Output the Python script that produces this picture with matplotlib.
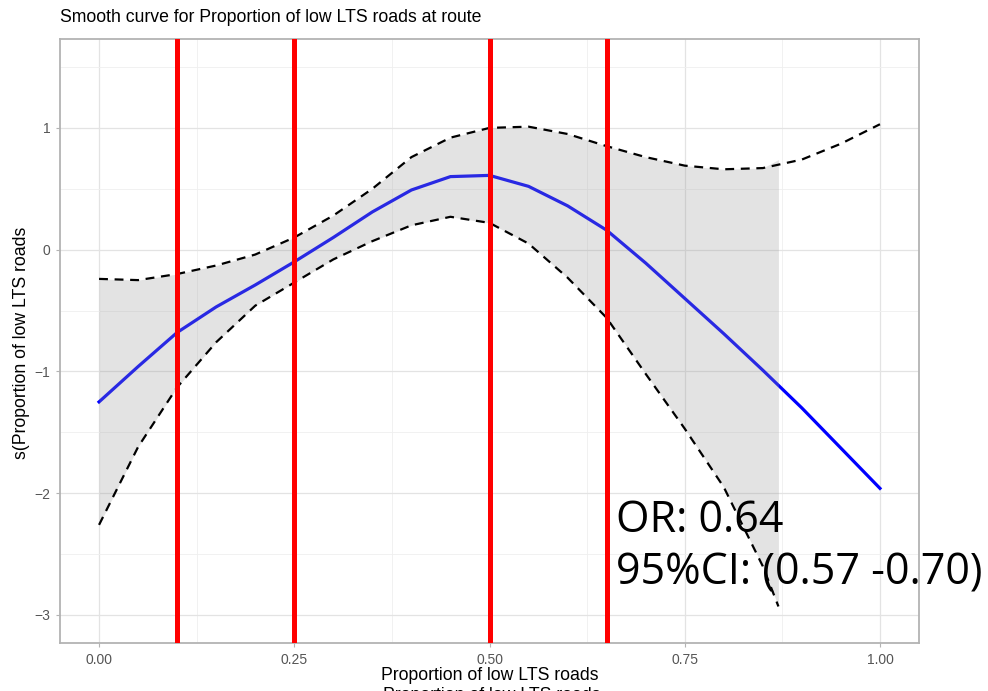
import numpy as np
import matplotlib
matplotlib.use("Agg")
import matplotlib.pyplot as plt

# values
x = [0.00, 0.05, 0.10, 0.15, 0.20, 0.25, 0.30, 0.35, 0.40, 0.45, 0.50,
     0.55, 0.60, 0.65, 0.70, 0.75, 0.80, 0.85, 0.90, 0.95, 1.00]
fit = [-1.25, -0.96, -0.68, -0.47, -0.29, -0.10, 0.10, 0.31, 0.49, 0.60, 0.61,
       0.52, 0.36, 0.16, -0.11, -0.40, -0.69, -0.99, -1.30, -1.63, -1.96]
upper = [-0.24, -0.25, -0.20, -0.13, -0.04, 0.10, 0.28, 0.50, 0.76, 0.92, 1.00,
         1.01, 0.95, 0.85, 0.76, 0.69, 0.66, 0.67, 0.74, 0.87, 1.03]
x_low = [0.00, 0.05, 0.10, 0.15, 0.20, 0.25, 0.30, 0.35, 0.40, 0.45, 0.50,
         0.55, 0.60, 0.65, 0.70, 0.75, 0.80, 0.85, 0.87]
lower = [-2.26, -1.62, -1.13, -0.76, -0.46, -0.27, -0.08, 0.07, 0.20, 0.27, 0.22,
         0.05, -0.23, -0.56, -1.02, -1.47, -1.95, -2.60, -2.93]
cutpoints = [0.10, 0.25, 0.50, 0.65]

title = "Smooth curve for Proportion of low LTS roads at route"
xlab = "Proportion of low LTS roads"
ylab = "s(Proportion of low LTS roads"
note = "OR: 0.64\n95%CI: (0.57 -0.70)"

plt.rcParams["font.family"] = ["Liberation Sans", "DejaVu Sans"]

fig = plt.figure(figsize=(9.88, 6.91), dpi=100)
ax = fig.add_axes([60 / 988, 1 - 643 / 691, 859 / 988, 604 / 691])

n_band = len(x_low)
upper_band = upper[:n_band]

ax.plot(x, fit, color="blue", lw=2.3, zorder=3)
ax.fill_between(x_low, lower, upper_band, color="#999999", alpha=0.27, lw=0, zorder=4)
ax.plot(x, upper, color="black", ls=(0, (4, 3)), lw=1.6, zorder=5)
ax.plot(x_low, lower, color="black", ls=(0, (4, 3)), lw=1.6, zorder=5)
for c in cutpoints:
    ax.axvline(c, color="red", lw=3.6, zorder=6)

ax.set_xlim(-0.05, 1.05)
ax.set_ylim(-3.23, 1.73)
ax.set_xticks([0, 0.25, 0.5, 0.75, 1.0])
ax.set_xticklabels(["0.00", "0.25", "0.50", "0.75", "1.00"])
ax.set_yticks([-3, -2, -1, 0, 1])
ax.set_yticklabels(["\u22123", "\u22122", "\u22121", "0", "1"])
ax.set_xticks([0.125, 0.375, 0.625, 0.875], minor=True)
ax.set_yticks([-2.5, -1.5, -0.5, 0.5, 1.5], minor=True)
ax.grid(which="major", color="#E3E3E3", lw=0.9, zorder=0)
ax.grid(which="minor", color="#EFEFEF", lw=0.6, zorder=0)
ax.set_axisbelow(True)
ax.tick_params(which="major", length=3, width=0.8, color="#B3B3B3",
               labelcolor="#555555", labelsize=10, pad=4)
ax.tick_params(which="minor", length=0)
for s in ax.spines.values():
    s.set_color("#B3B3B3")
    s.set_linewidth(1.3)

fig.text(60 / 988, 1 - 18 / 691, title, fontsize=12.7, va="center", ha="left")
fig.text(490 / 988, 1 - 675 / 691, xlab, fontsize=12.7, va="center", ha="center")
# second, cut-off copy of the x label visible at the bottom edge
fig.text(492 / 988, 1 - 695 / 691, xlab, fontsize=12.7, va="center", ha="center")
fig.text(22 / 988, 1 - 343 / 691, ylab, fontsize=12.7, va="center", ha="center",
         rotation=90)

ax.text(0.662, -2.44, note, fontsize=31, family=["Open Sans", "DejaVu Sans"],
        va="center", ha="left", linespacing=1.25, zorder=7)

fig.savefig("out.png", dpi=100)
